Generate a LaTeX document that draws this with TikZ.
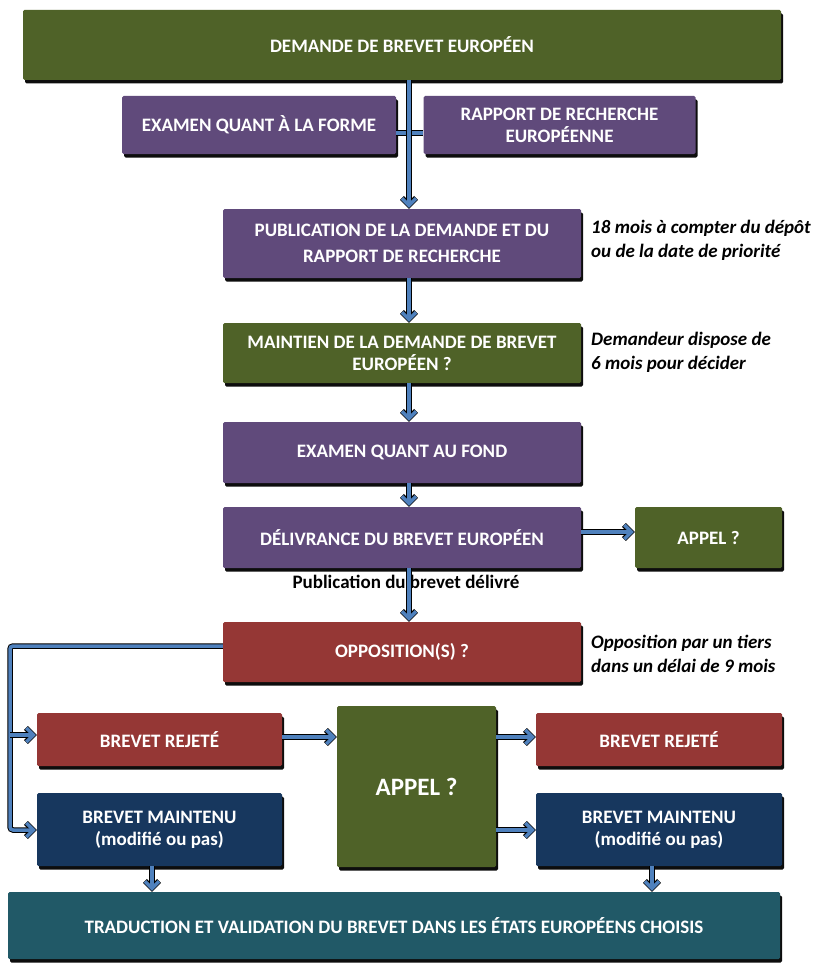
\documentclass[tikz,border=0pt]{standalone}
\usepackage{fontspec}
\setmainfont{Carlito}
\usetikzlibrary{arrows.meta,shadows}
\definecolor{cgreen}{HTML}{4F6228}
\definecolor{cpurple}{HTML}{604A7B}
\definecolor{cred}{HTML}{953735}
\definecolor{cnavy}{HTML}{17375E}
\definecolor{cteal}{HTML}{215967}
\definecolor{cblue}{HTML}{4F81BD}
\tikzset{
  box/.style={rectangle, rounded corners=1.5pt, text=white, align=center, inner sep=0pt,
    font=\bfseries\fontsize{19}{22}\selectfont,
    drop shadow={shadow xshift=2pt, shadow yshift=-3.5pt, opacity=0.95, fill=black}},
  sz/.style 2 args={minimum width=#1pt, minimum height=#2pt},
  note/.style={font=\bfseries\itshape\fontsize{19}{24}\selectfont, align=left, anchor=west, inner sep=0pt, text=black},
  conn/.style={draw=cblue, line width=3.5pt, preaction={draw=black, line width=5.5pt}},
  arr/.style={draw=cblue, line width=3.5pt, -{Straight Barb[length=7pt,width=14pt]}, shorten >=1pt,
    preaction={draw=black, line width=5.5pt, -{Straight Barb[length=7pt,width=14pt]}, shorten >=0pt}}
}
\begin{document}
\begin{tikzpicture}[x=1pt,y=-1pt]
\useasboundingbox (0,0) rectangle (814,963);
% boxes
\node[box, fill=cgreen, sz={758}{70}] (dem) at (402,45) {DEMANDE DE BREVET EUROPÉEN};
\node[box, fill=cpurple, sz={274}{58}] (exf) at (259,125) {EXAMEN QUANT À LA FORME};
\node[box, fill=cpurple, sz={272}{58}] (rap) at (559.5,125) {RAPPORT DE RECHERCHE\\EUROPÉENNE};
\node[box, fill=cpurple, sz={358}{69}, font=\bfseries\fontsize{19}{26}\selectfont] (pub) at (402,243.5) {PUBLICATION DE LA DEMANDE ET DU\\RAPPORT DE RECHERCHE};
\node[box, fill=cgreen, sz={358}{60}] (mnt) at (402,353) {MAINTIEN DE LA DEMANDE DE BREVET\\EUROPÉEN ?};
\node[box, fill=cpurple, sz={358}{61}] (fond) at (402,452.5) {EXAMEN QUANT AU FOND};
\node[box, fill=cpurple, sz={358}{61}] (deliv) at (402,537.5) {DÉLIVRANCE DU BREVET EUROPÉEN};
\node[box, fill=cgreen, sz={147}{61}] (app1) at (708.5,537.5) {APPEL ?};
\node[box, fill=cred, sz={358}{60}] (opp) at (402,652) {OPPOSITION(S) ?};
\node[box, fill=cred, sz={245}{53}] (rej1) at (159.5,739.5) {BREVET REJETÉ};
\node[box, fill=cnavy, sz={245}{73}] (mtn1) at (159.5,829.5) {BREVET MAINTENU\\(modifié ou pas)};
\node[box, fill=cgreen, sz={159}{161}, font=\bfseries\fontsize{25}{30}\selectfont] (app2) at (416.5,786.5) {APPEL ?};
\node[box, fill=cred, sz={246}{53}] (rej2) at (659,739.5) {BREVET REJETÉ};
\node[box, fill=cnavy, sz={246}{73}] (mtn2) at (659,829.5) {BREVET MAINTENU\\(modifié ou pas)};
\node[box, fill=cteal, sz={772}{67}] (trad) at (394,925.5) {TRADUCTION ET VALIDATION DU BREVET DANS LES ÉTATS EUROPÉENS CHOISIS};
% notes
\node[note] (n1) at (591,240) {18 mois à compter du dépôt\\ou de la date de priorité};
\node[note] (n2) at (591,352.5) {Demandeur dispose de\\6 mois pour décider};
\node[note] (n3) at (591,653.5) {Opposition par un tiers\\dans un délai de 9 mois};
\node[font=\bfseries\fontsize{19}{22}\selectfont, inner sep=0pt] (pubd) at (406,582) {Publication du brevet délivré};
% helper coordinates
\coordinate (vx) at (409,0);
\coordinate (lx) at (10,0);
\coordinate (xa) at (152,0);
\coordinate (xb) at (652,0);
\coordinate (h1) at (0,133);
\coordinate (y532) at (0,532);
\coordinate (y646) at (0,646);
\coordinate (y735) at (0,735);
\coordinate (y737) at (0,737);
\coordinate (y830) at (0,830);
% connectors
\draw[conn] (exf.east |- h1) -- (rap.west |- h1);
\draw[arr] (dem.south -| vx) -- (pub.north -| vx);
\draw[arr] (pub.south -| vx) -- (mnt.north -| vx);
\draw[arr] (mnt.south -| vx) -- (fond.north -| vx);
\draw[arr] (fond.south -| vx) -- (deliv.north -| vx);
\draw[arr] (deliv.south -| vx) -- (opp.north -| vx);
\draw[arr] (deliv.east |- y532) -- (app1.west |- y532);
\draw[arr, rounded corners=3pt] (opp.west |- y646) -- (lx |- y646) -- (lx |- y830) -- (mtn1.west |- y830);
\draw[arr] (lx |- y735) -- (rej1.west |- y735);
\draw[arr] (rej1.east |- y737) -- (app2.west |- y737);
\draw[arr] (app2.east |- y737) -- (rej2.west |- y737);
\draw[arr] (app2.east |- y830) -- (mtn2.west |- y830);
\draw[arr] (mtn1.south -| xa) -- (trad.north -| xa);
\draw[arr] (mtn2.south -| xb) -- (trad.north -| xb);
\end{tikzpicture}
\end{document}
